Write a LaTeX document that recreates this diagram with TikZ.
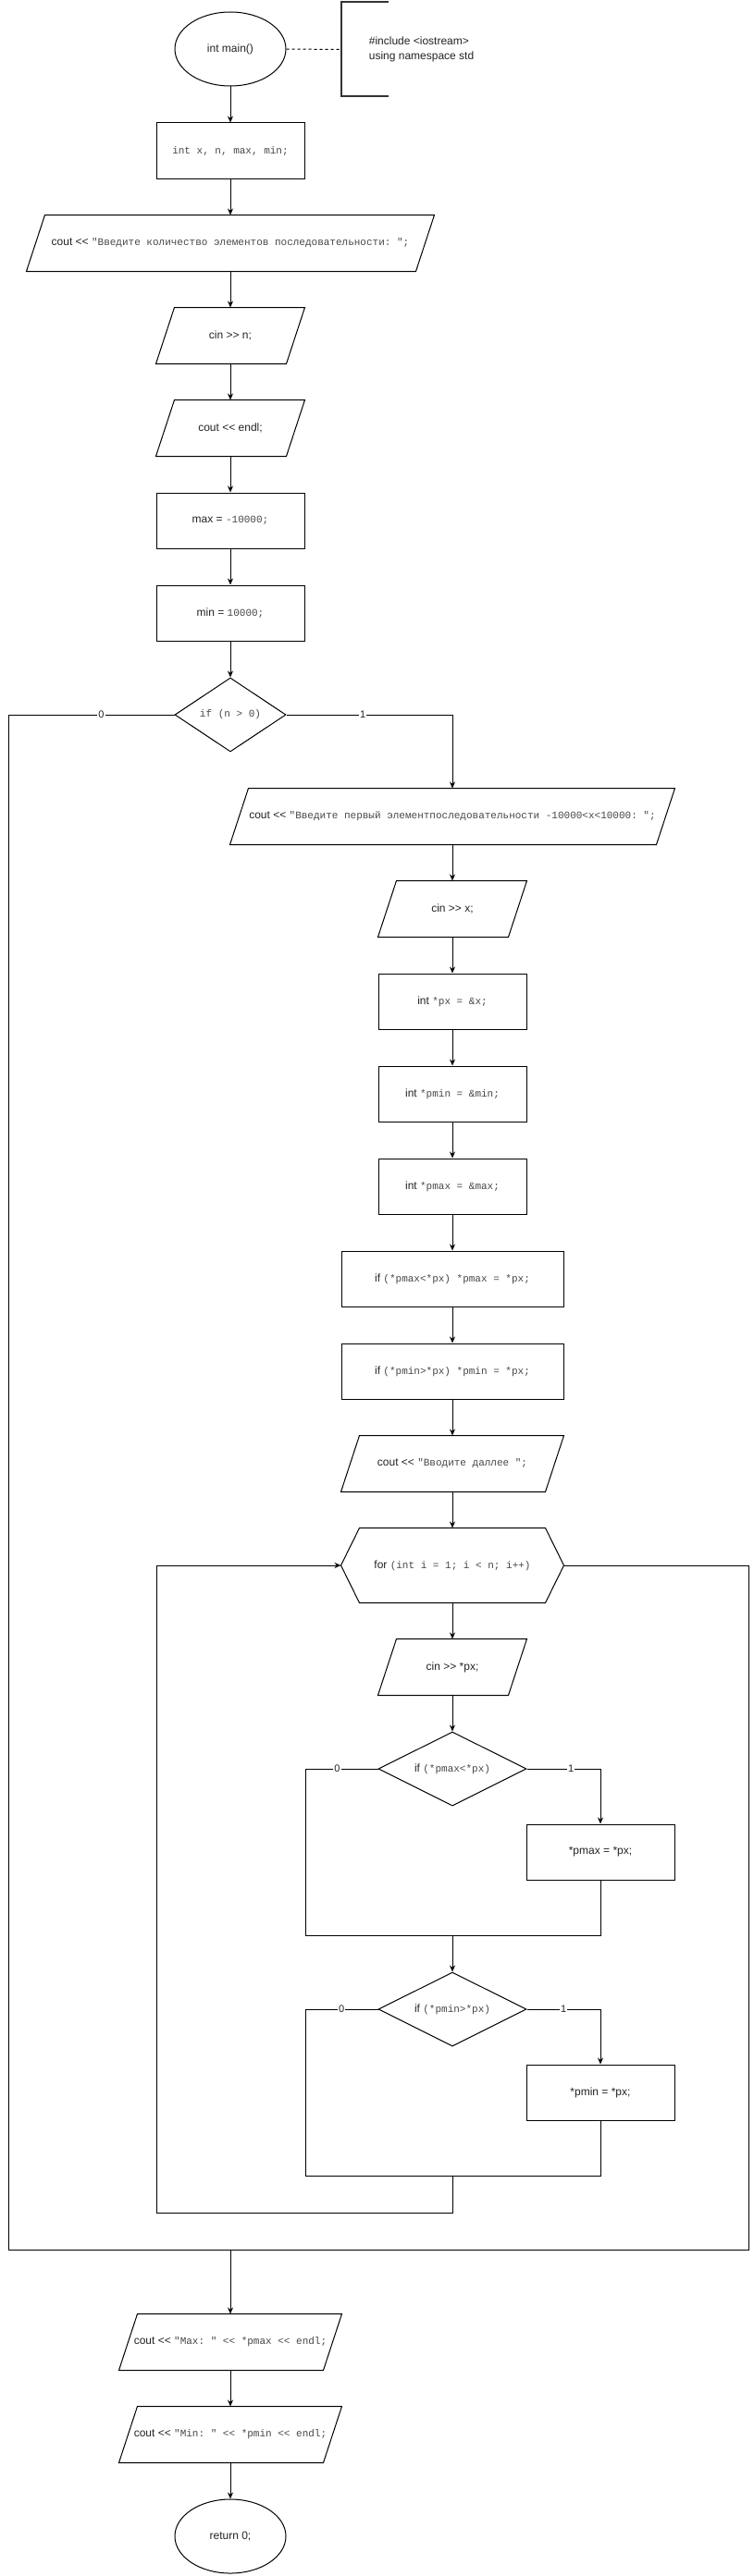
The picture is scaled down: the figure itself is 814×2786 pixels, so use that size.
\documentclass[tikz,border=0pt]{standalone}
\usepackage{fontspec}
\setmainfont{Liberation Sans}[Ligatures=TeXOff]
\setmonofont{Liberation Mono}[Ligatures=TeXOff]
\usetikzlibrary{shapes.geometric,arrows.meta}
\definecolor{txtgray}{RGB}{35,35,35}
\definecolor{codegray}{RGB}{70,70,70}
\newcommand{\code}[1]{{\ttfamily\fontsize{11}{13}\selectfont\color{codegray}#1}}

\begin{document}
\begin{tikzpicture}[%
      x=1pt, y=-1pt,
      line width=1pt,
      every node/.style={font=\fontsize{12}{14}\selectfont, text=txtgray},
      block/.style={draw, rectangle, minimum width=160pt, minimum height=60pt, inner sep=0pt},
      iobox/.style={rectangle, minimum width=160pt, minimum height=60pt, inner sep=0pt},
      term/.style={draw, ellipse, minimum width=120pt, minimum height=80pt, inner sep=0pt},
      cond/.style={draw, diamond, aspect=1.5, minimum width=120pt, minimum height=80pt, inner sep=0pt},
      flow/.style={-{Stealth[length=7pt,width=6pt]}},
      lbl/.style={fill=white, inner sep=1pt, font=\fontsize{11}{13}\selectfont},
      ]
      \useasboundingbox (0,0) rectangle (814,2786);

      % main column
      \node[term] (start) at (249,53) {int main()};
      \node[minimum width=50pt, minimum height=101pt, inner sep=0pt] (note) at (394,53.5) {};
      \node[anchor=west, align=left, font=\fontsize{12}{16}\selectfont] (incl) at (395,53) {\#include <iostream>\\using namespace std};
      \node[block] (decl) at (249,163) {\code{int x, n, max, min;}};
      \node[iobox, minimum width=440pt] (outN) at (249,263) {cout << \code{"Введите количество элементов последовательности: ";}};
      \node[iobox] (inN) at (249,363) {cin >> n;};
      \node[iobox] (endl) at (249,463) {cout << endl;};
      \node[block] (maxinit) at (249,563) {max = \code{-10000;}};
      \node[block] (mininit) at (249,663) {min = \code{10000;}};
      \node[cond] (ifn) at (249,773) {\code{if (n > 0)}};

      % branch n > 0
      \node[iobox, minimum width=480pt] (outFirst) at (489,883) {cout << \code{"Введите первый элементпоследовательности -10000<x<10000: ";}};
      \node[iobox] (inX) at (489,983) {cin >> x;};
      \node[block] (px) at (489,1083) {int \code{*px = \&x;}};
      \node[block] (pmin) at (489,1183) {int \code{*pmin = \&min;}};
      \node[block] (pmax) at (489,1283) {int \code{*pmax = \&max;}};
      \node[block, minimum width=240pt] (ifmax1) at (489,1383) {if \code{(*pmax<*px) *pmax = *px;}};
      \node[block, minimum width=240pt] (ifmin1) at (489,1483) {if \code{(*pmin>*px) *pmin = *px;}};
      \node[iobox, minimum width=240pt] (outNext) at (489,1583) {cout << \code{"Вводите даллее ";}};
      \node[iobox, minimum width=240pt, minimum height=80pt] (loop) at (489,1693) {for \code{(int i = 1; i < n; i++)}};
      \node[iobox] (inPx) at (489,1803) {cin >> *px;};
      \node[cond, minimum width=160pt] (cmpMax) at (489,1913) {if \code{(*pmax<*px)}};
      \node[block] (setMax) at (649,2003) {*pmax = *px;};
      \node[cond, minimum width=160pt] (cmpMin) at (489,2173) {if \code{(*pmin>*px)}};
      \node[block] (setMin) at (649,2263) {*pmin = *px;};

      % output
      \node[iobox, minimum width=240pt] (outMax) at (249,2533) {cout << \code{"Max: " << *pmax << endl;}};
      \node[iobox, minimum width=240pt] (outMin) at (249,2633) {cout << \code{"Min: " << *pmin << endl;}};
      \node[term] (end) at (249,2743) {return 0;};

      \coordinate (m1) at (489,2093);
      \coordinate (m1L) at (330,2093);
      \coordinate (m2) at (489,2353);
      \coordinate (m2L) at (330,2353);
      \coordinate (back) at (169,2393);
      \coordinate (join) at (249,2433);
      \coordinate (railL) at (9,2433);
      \coordinate (railR) at (809,2433);

      % outlines of io boxes and loop
      \foreach \n in {outN,inN,endl,outFirst,inX,outNext,inPx,outMax,outMin}
        \draw ([xshift=20pt]\n.north west) -- (\n.north east) -- ([xshift=-20pt]\n.south east) -- (\n.south west) -- cycle;
      \draw ([xshift=20pt]loop.north west) -- ([xshift=-20pt]loop.north east) -- (loop.east)
        -- ([xshift=-20pt]loop.south east) -- ([xshift=20pt]loop.south west) -- (loop.west) -- cycle;
      \draw[line width=2pt, black!80] (note.north east) -- (note.north west) -- (note.south west) -- (note.south east);
      \draw[dash pattern=on 3pt off 3pt] (start.east) -- (note.west);

      \draw[flow] (start) -- (decl);
      \draw[flow] (decl) -- (outN);
      \draw[flow] (outN) -- (inN);
      \draw[flow] (inN) -- (endl);
      \draw[flow] (endl) -- (maxinit);
      \draw[flow] (maxinit) -- (mininit);
      \draw[flow] (mininit) -- (ifn);
      \draw[flow] (ifn.east) -| node[lbl, pos=0.23] {1} (outFirst.north);
      \draw (ifn.west) -| node[lbl, pos=0.22] {0} (railL) -- (join);

      \draw[flow] (outFirst) -- (inX);
      \draw[flow] (inX) -- (px);
      \draw[flow] (px) -- (pmin);
      \draw[flow] (pmin) -- (pmax);
      \draw[flow] (pmax) -- (ifmax1);
      \draw[flow] (ifmax1) -- (ifmin1);
      \draw[flow] (ifmin1) -- (outNext);
      \draw[flow] (outNext) -- (loop);
      \draw[flow] (loop) -- (inPx);
      \draw[flow] (inPx) -- (cmpMax);

      \draw[flow] (cmpMax.east) -| node[lbl, pos=0.3] {1} (setMax.north);
      \draw (cmpMax.west) -| node[lbl, pos=0.28] {0} (m1L) -- (m1);
      \draw (setMax.south) |- (m1);
      \draw[flow] (m1) -- (cmpMin.north);
      \draw[flow] (cmpMin.east) -| node[lbl, pos=0.25] {1} (setMin.north);
      \draw (cmpMin.west) -| node[lbl, pos=0.25] {0} (m2L) -- (m2);
      \draw (setMin.south) |- (m2);
      \draw[flow] (m2) |- (back) |- (loop.west);
      \draw (loop.east) -| (railR) -- (join);

      \draw[flow] (join) -- (outMax);
      \draw[flow] (outMax) -- (outMin);
      \draw[flow] (outMin) -- (end);
\end{tikzpicture}
\end{document}
